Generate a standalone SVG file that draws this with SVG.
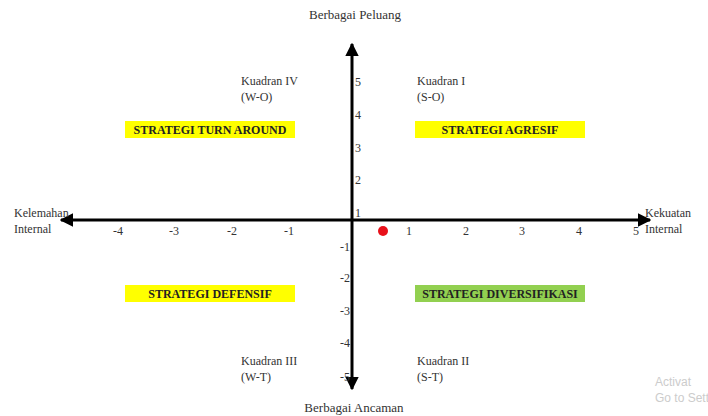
<svg xmlns="http://www.w3.org/2000/svg" width="708" height="416" viewBox="0 0 708 416">
<style>
text{font-family:"Liberation Serif","Times New Roman",serif;fill:#333;font-size:12px}
.s{font-weight:bold;font-size:12px;fill:#222;text-anchor:middle}
.m{text-anchor:middle}
.e{text-anchor:end}
.big{font-size:13px}
.ax{stroke:#000;stroke-width:3;fill:none}
.wm{font-family:"Liberation Sans",Arial,sans-serif;fill:#ccc}
</style>
<defs>
<marker id="ah" viewBox="0 0 10 10" refX="9" refY="5" markerWidth="4.5" markerHeight="4.5" orient="auto" markerUnits="strokeWidth">
<path d="M0,0 L10,5 L0,10 Z" fill="#000"/>
</marker>
</defs>
<rect width="708" height="416" fill="#fff"/>
<g id="connectors">
<line class="ax" x1="352" y1="220" x2="352" y2="44" marker-end="url(#ah)"/>
<line class="ax" x1="352" y1="220" x2="352" y2="389" marker-end="url(#ah)"/>
<line class="ax" x1="352" y1="220" x2="650" y2="220" marker-end="url(#ah)"/>
<line class="ax" x1="352" y1="220" x2="61" y2="220" marker-end="url(#ah)"/>
</g>
<g id="ticks">
<text x="355" y="86">5</text>
<text x="355" y="119">4</text>
<text x="355" y="152">3</text>
<text x="355" y="184">2</text>
<text x="355" y="217">1</text>
<text class="e" x="350" y="251">-1</text>
<text class="e" x="350" y="282">-2</text>
<text class="e" x="350" y="315">-3</text>
<text class="e" x="350" y="347">-4</text>
<text class="e" x="350" y="381">-5</text>
<text class="m" x="118" y="235">-4</text>
<text class="m" x="174" y="235">-3</text>
<text class="m" x="232" y="235">-2</text>
<text class="m" x="289" y="235">-1</text>
<text class="m" x="409" y="235">1</text>
<text class="m" x="466" y="235">2</text>
<text class="m" x="522" y="235">3</text>
<text class="m" x="579" y="235">4</text>
<text class="m" x="636" y="235">5</text>
</g>
<g id="axis-top"><text class="m big" x="355" y="19">Berbagai Peluang</text></g>
<g id="axis-bottom"><text class="m big" x="354" y="412">Berbagai Ancaman</text></g>
<g id="axis-left"><text x="14" y="217">Kelemahan</text><text x="14" y="233">Internal</text></g>
<g id="axis-right"><text x="645" y="217">Kekuatan</text><text x="645" y="233">Internal</text></g>
<g id="q4"><text x="241" y="85">Kuadran IV</text><text x="241" y="101">(W-O)</text></g>
<g id="q1"><text x="417" y="85">Kuadran I</text><text x="417" y="101">(S-O)</text></g>
<g id="q3"><text x="241" y="365">Kuadran III</text><text x="241" y="381">(W-T)</text></g>
<g id="q2"><text x="417" y="365">Kuadran II</text><text x="417" y="381">(S-T)</text></g>
<g id="s-turn"><rect x="125" y="121" width="170" height="17" fill="#ffff00"/><text class="s" x="210" y="134">STRATEGI TURN AROUND</text></g>
<g id="s-agresif"><rect x="415" y="121" width="170" height="17" fill="#ffff00"/><text class="s" x="500" y="134">STRATEGI AGRESIF</text></g>
<g id="s-defensif"><rect x="125" y="285" width="170" height="17" fill="#ffff00"/><text class="s" x="210" y="298">STRATEGI DEFENSIF</text></g>
<g id="s-divers"><rect x="415" y="285" width="170" height="17" fill="#92d050"/><text class="s" x="500" y="298">STRATEGI DIVERSIFIKASI</text></g>
<g id="point"><circle cx="383" cy="231" r="5" fill="#e8101a"/></g>
<g id="watermark"><text class="wm" x="655" y="386" font-size="13">Activat</text><text class="wm" x="655" y="402" font-size="10">Go to Sett</text></g>
</svg>
